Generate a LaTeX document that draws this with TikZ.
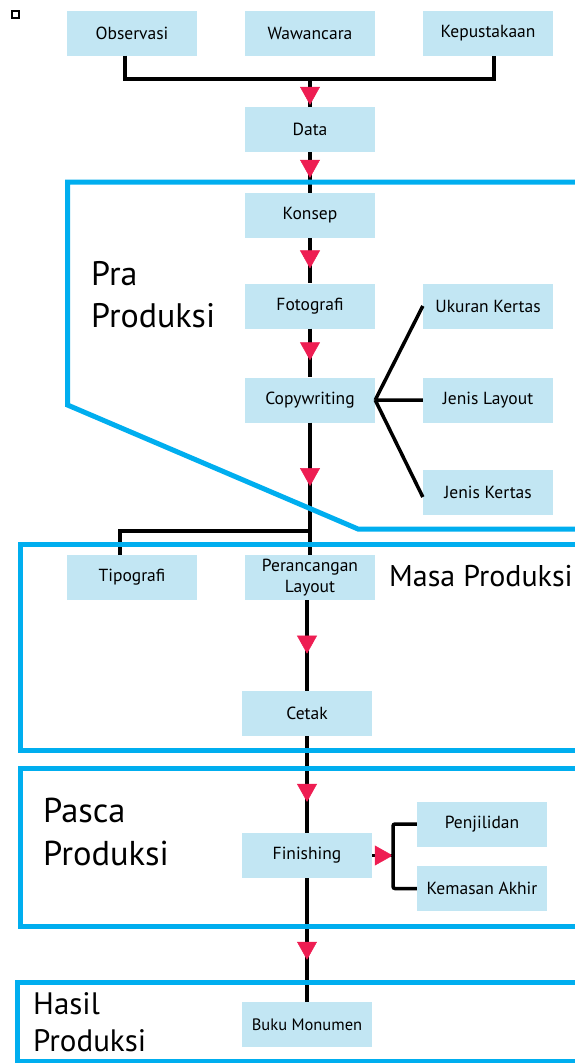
\documentclass[tikz,border=0pt]{standalone}
\usepackage{fontspec}
\setmainfont{PT Sans}
\usetikzlibrary{arrows.meta,decorations.markings}
\definecolor{kotak}{HTML}{C2E6F3}
\definecolor{garis}{HTML}{00AEEF}
\definecolor{panah}{HTML}{EE1D52}

\begin{document}
\begin{tikzpicture}[x=1pt,y=-1pt,
    box/.style={fill=kotak, minimum width=130pt, minimum height=45pt, inner sep=0pt, align=center, font=\fontsize{17.5}{21}\selectfont},
    link/.style={line width=3.5pt},
    fl/.style={link, postaction={decorate}, decoration={markings, mark=at position #1 with {\arrow[panah]{Triangle[width=20pt,length=18pt,line width=0.5pt]}}}},
    region/.style={draw=garis, line width=5pt},
    tahap/.style={inner sep=0pt, align=left, anchor=north west}]
    \useasboundingbox (0,0) rectangle (574,1063);
    \draw[line width=1.5pt] (12,11) rectangle (19,18);

    % Sumber data
    \node[box] (obs) at (132,33) {Observasi};
    \node[box] (waw) at (310,33) {Wawancara};
    \node[box] (kep) at (488,33) {Kepustakaan};
    \coordinate (jn) at (310,79);
    \draw[link] ([xshift=-7pt]obs.south) |- (jn) -| ([xshift=6pt]kep.south);
    \node[box] (data) at (310,129.5) {Data};
    \draw[fl=0.93] (jn) -- (data);

    % Pra produksi
    \node[box] (konsep) at (310,215.5) {Konsep};
    \node[box] (foto) at (310,306) {Fotografi};
    \node[box] (copy) at (310,400) {Copywriting};
    \node[box] (ukuran) at (488,306) {Ukuran Kertas};
    \node[box] (layout) at (488,400) {Jenis Layout};
    \node[box] (jkertas) at (488,492) {Jenis Kertas};
    \draw[fl=0.63] (data) -- (konsep);
    \draw[fl=0.67] (konsep) -- (foto);
    \draw[fl=0.65] (foto) -- (copy);
    \draw[link] (copy.east) -- (ukuran.west)
        (copy.east) -- (layout.west)
        (copy.east) -- ([yshift=-5pt]jkertas.west);

    % Masa produksi
    \node[box] (tipo) at (132,577.5) {Tipografi};
    \node[box] (rancang) at (310,577.5) {Perancangan\\Layout};
    \node[box] (cetak) at (307,713.5) {Cetak};
    \coordinate (cabang) at (310,531);
    \draw[fl=0.48] (copy) -- (rancang);
    \draw[link] ([xshift=-12pt]tipo.north) |- (cabang);
    \draw[fl=0.59] ([xshift=-3pt]rancang.south) -- (cetak);

    % Pasca produksi
    \node[box] (finish) at (307,855.5) {Finishing};
    \node[box] (jilid) at (482,824) {Penjilidan};
    \node[box] (kemas) at (482,888.5) {Kemasan Akhir};
    \coordinate (kurung) at (393,855.5);
    \draw[fl=0.68] (cetak) -- (finish);
    \draw[fl=0.99] (finish) -- (kurung);
    \draw[link, rounded corners=2pt] (jilid.west) -| (kurung) |- (kemas.west);

    % Hasil produksi
    \node[box, font=\fontsize{16.5}{18}\selectfont] (buku) at (307,1024.5) {Buku Monumen};
    \draw[fl=0.66] (finish) -- (buku);

    % Batas tahap
    \draw[region] (580,182) -- (67.5,182) -- (67.5,405) -- (358,529) -- (580,529);
    \draw[region] (580,544) -- (20,544) -- (20,750) -- (580,750);
    \draw[region] (580,768) -- (20,768) -- (20,926) -- (580,926);
    \draw[region] (580,982) -- (17,982) -- (17,1061) -- (580,1061);
    \node[tahap, font=\fontsize{34}{42}\selectfont] (pra) at (91,261) {Pra\\Produksi};
    \node[inner sep=0pt, anchor=base west, font=\fontsize{30}{32}\selectfont] (masa) at (389,586) {Masa Produksi};
    \node[tahap, font=\fontsize{34.5}{43}\selectfont] (pasca) at (43,798) {Pasca\\Produksi};
    \node[tahap, font=\fontsize{31}{37}\selectfont] (hasil) at (33,992) {Hasil\\Produksi};
\end{tikzpicture}
\end{document}
